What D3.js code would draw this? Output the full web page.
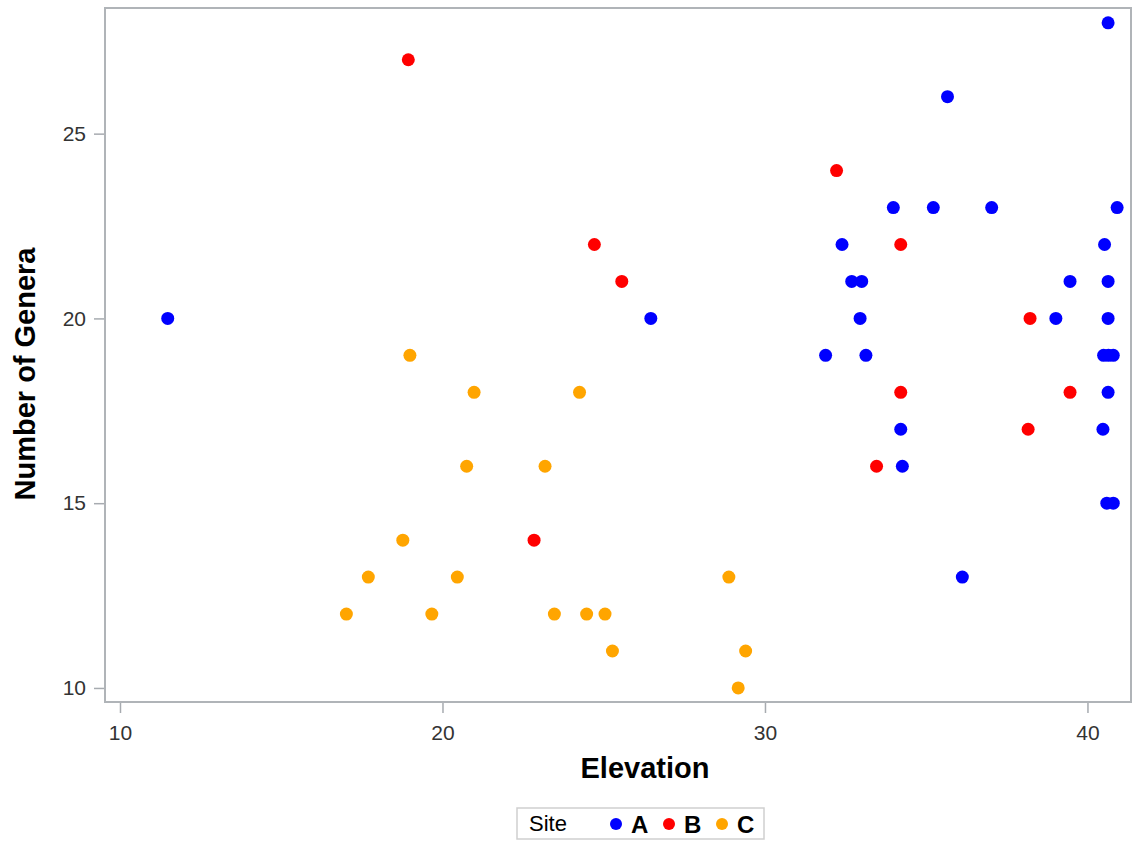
<!DOCTYPE html>
<html>
<head>
<meta charset="utf-8">
<script src="https://cdn.jsdelivr.net/npm/d3@7"></script>
<style>
  body { margin: 0; background: #fff; }
  svg { display: block; font-family: "Liberation Sans", Arial, sans-serif; }
</style>
</head>
<body>
<div id="chart"></div>
<script>
// Data, one pair of arrays per site
const sites = ['A', 'B', 'C'];
const siteColors = ['#0000ff', '#ff0000', '#ffa500'];

const elevA = [11.48, 26.46, 35.66, 33.98, 35.22, 37.03, 32.39, 32.69, 33.00, 32.95,
    31.88, 33.13, 34.21, 34.26, 36.12, 40.64, 40.92, 40.53, 39.46, 40.64,
    39.02, 40.64, 40.50, 40.65, 40.80, 40.64, 40.48, 40.60, 40.80];
const generaA = [20, 20, 26, 23, 23, 23, 22, 21, 21, 20,
    19, 19, 17, 16, 13, 28, 23, 22, 21, 21,
    20, 20, 19, 19, 19, 18, 17, 15, 15];

const elevB = [18.94, 24.71, 25.56, 22.84, 32.22, 34.21, 34.21, 33.46, 38.22, 39.46, 38.16];
const generaB = [27, 22, 21, 14, 24, 22, 18, 16, 20, 18, 17];

const elevC = [18.99, 20.98, 24.25, 20.75, 23.18, 18.77, 17.70, 20.46, 28.88, 17.02,
    19.67, 23.47, 24.47, 25.04, 25.27, 29.40, 29.17];
const generaC = [19, 18, 18, 16, 16, 14, 13, 13, 13, 12,
    12, 12, 12, 12, 11, 11, 10];

const xTicks = [10, 20, 30, 40];
const yTicks = [10, 15, 20, 25];

const width = 1133, height = 843;
const plot = { left: 105, right: 1131, top: 8, bottom: 702 };

const svg = d3.select('#chart')
    .append('svg')
    .attr('width', width)
    .attr('height', height);

// Scales
const x = d3.scaleLinear()
    .domain([9.535, 41.35])
    .range([plot.left, plot.right]);

const y = d3.scaleLinear()
    .domain([9.62, 28.40])
    .range([plot.bottom, plot.top]);

// Axes
const xAxis = svg.append('g')
    .attr('transform', `translate(0, ${plot.bottom})`)
    .call(d3.axisBottom(x).tickValues(xTicks).tickSize(11).tickPadding(12).tickFormat(d3.format('d')));

const yAxis = svg.append('g')
    .attr('transform', `translate(${plot.left}, 0)`)
    .call(d3.axisLeft(y).tickValues(yTicks).tickSize(11).tickPadding(8).tickFormat(d3.format('d')));

[xAxis, yAxis].forEach(g => {
    g.select('.domain').remove();
    g.selectAll('.tick line').attr('stroke', '#a7abb0').attr('stroke-width', 1.5);
    g.selectAll('.tick text')
        .attr('fill', '#333')
        .style('font-size', '21px');
});

// Plot frame
svg.append('rect')
    .attr('x', plot.left)
    .attr('y', plot.top)
    .attr('width', plot.right - plot.left)
    .attr('height', plot.bottom - plot.top)
    .attr('fill', 'none')
    .attr('stroke', '#b0b4b8')
    .attr('stroke-width', 2);

// Points
const series = [
    { elev: elevA, genera: generaA },
    { elev: elevB, genera: generaB },
    { elev: elevC, genera: generaC }
];

series.forEach((s, i) => {
    svg.append('g')
        .selectAll('circle')
        .data(s.elev.map((e, j) => [e, s.genera[j]]))
        .enter()
        .append('circle')
        .attr('cx', d => x(d[0]))
        .attr('cy', d => y(d[1]))
        .attr('r', 6.5)
        .attr('fill', siteColors[i]);
});

// Axis titles
svg.append('text')
    .attr('x', 645)
    .attr('y', 778)
    .attr('text-anchor', 'middle')
    .style('font-size', '29px')
    .style('font-weight', 'bold')
    .text('Elevation');

svg.append('text')
    .attr('transform', `translate(35, 374) rotate(-90)`)
    .attr('text-anchor', 'middle')
    .style('font-size', '29px')
    .style('font-weight', 'bold')
    .text('Number of Genera');

// Legend
const legend = svg.append('g');

legend.append('rect')
    .attr('x', 517)
    .attr('y', 808)
    .attr('width', 247)
    .attr('height', 31)
    .attr('fill', 'none')
    .attr('stroke', '#cfcfcf')
    .attr('stroke-width', 1.5);

legend.append('text')
    .attr('x', 529)
    .attr('y', 831)
    .style('font-size', '22px')
    .text('Site');

sites.forEach((s, i) => {
    const cx = 616 + i * 53;
    legend.append('circle')
        .attr('cx', cx)
        .attr('cy', 824)
        .attr('r', 6)
        .attr('fill', siteColors[i]);
    legend.append('text')
        .attr('x', cx + 15)
        .attr('y', 833)
        .style('font-size', '24px')
        .style('font-weight', 'bold')
        .text(s);
});
</script>
</body>
</html>
